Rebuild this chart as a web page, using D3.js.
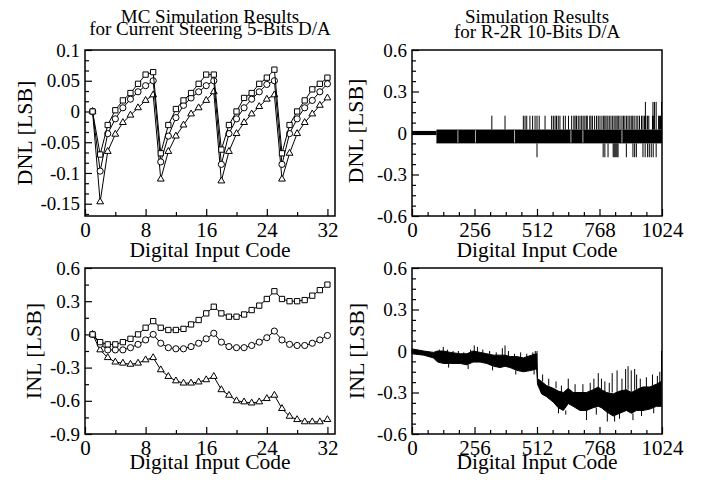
<!DOCTYPE html>
<html>
<head>
<meta charset="utf-8">
<script src="https://cdn.jsdelivr.net/npm/d3@7"></script>
<style>
  body { margin: 0; background: #fff; }
  text { font-family: 'Liberation Serif', 'Times New Roman', serif; fill: #000; }
</style>
</head>
<body>
<svg id="chart" width="707" height="482"></svg>
<script>
// ---- data ----
let codes = [1, 2, 3, 4, 5, 6, 7, 8, 9, 10, 11, 12, 13, 14, 15, 16,
  17, 18, 19, 20, 21, 22, 23, 24, 25, 26, 27, 28, 29, 30, 31, 32]

let dnlSquare = [0, -0.07, -0.022, 0.002, 0.018, 0.03, 0.045, 0.06, 0.064,
  -0.068, -0.022, 0.004, 0.018, 0.03, 0.045, 0.06, 0.06,
  -0.062, -0.022, 0, 0.022, 0.03, 0.045, 0.055, 0.068,
  -0.068, -0.022, 0, 0.018, 0.036, 0.045, 0.055]
let dnlCircle = [0, -0.097, -0.036, -0.012, 0.006, 0.02, 0.032, 0.042, 0.05,
  -0.082, -0.04, -0.01, 0.01, 0.022, 0.032, 0.042, 0.05,
  -0.086, -0.036, -0.012, 0.006, 0.02, 0.032, 0.044, 0.05,
  -0.086, -0.036, -0.012, 0.006, 0.018, 0.032, 0.045]
let dnlTriangle = [0, -0.147, -0.065, -0.037, -0.018, -0.006, 0.006, 0.018, 0.027,
  -0.11, -0.065, -0.04, -0.022, -0.004, 0.006, 0.018, 0.032,
  -0.113, -0.065, -0.036, -0.018, -0.004, 0.008, 0.02, 0.027,
  -0.11, -0.068, -0.036, -0.018, -0.004, 0.01, 0.022]

let inlSquare = [0, -0.07, -0.09, -0.09, -0.07, -0.04, 0, 0.06, 0.12,
  0.06, 0.04, 0.04, 0.05, 0.09, 0.13, 0.19, 0.25,
  0.19, 0.16, 0.16, 0.18, 0.22, 0.26, 0.32, 0.39,
  0.32, 0.3, 0.3, 0.31, 0.35, 0.4, 0.45]
let inlCircle = [0, -0.09, -0.14, -0.14, -0.14, -0.12, -0.09, -0.05, 0,
  -0.08, -0.12, -0.13, -0.13, -0.11, -0.08, -0.04, 0.01,
  -0.07, -0.11, -0.12, -0.12, -0.1, -0.07, -0.03, 0.03,
  -0.05, -0.09, -0.1, -0.1, -0.08, -0.05, -0.01]
let inlTriangle = [0, -0.14, -0.21, -0.25, -0.26, -0.27, -0.26, -0.23, -0.21,
  -0.32, -0.38, -0.42, -0.44, -0.44, -0.43, -0.41, -0.38,
  -0.5, -0.55, -0.6, -0.61, -0.62, -0.61, -0.58, -0.55,
  -0.67, -0.74, -0.77, -0.79, -0.79, -0.79, -0.77]

// R-2R DNL: dense toggling drawn as bands [from, to, low, high] plus spikes
let r2rDnlBands = [[0, 100, -0.015, 0.015], [100, 1024, -0.075, 0.025]]
let r2rDnlGaps = [188, 260, 420, 651, 700, 860]
let r2rDnlSpikesUp = [327, 381, 456, 463, 470, 483, 494, 504, 512, 521, 545, 572, 579,
  586, 592, 599, 606, 620, 628, 641, 654, 663, 668, 674, 681, 688, 695, 701, 708, 714,
  718, 728, 733, 739, 748, 756, 763, 770, 778, 785, 790, 795, 802, 808, 815, 822, 828,
  835, 840, 845, 852, 860, 866, 872, 879, 885, 892, 898, 904, 910, 918, 925, 932, 940,
  946, 952, 958, 965, 970, 985, 990, 1010, 1014, 1018]
let r2rDnlSpikesHigh = [956, 987, 993, 1000, 1022]
let r2rDnlSpikesDown = [512, 783, 790, 803, 824, 828, 832, 836, 840, 844, 878, 905,
  912, 919, 946, 955, 965, 972, 980, 988, 1000]

// R-2R INL envelope
let r2rInlCode = [0, 48, 88, 105, 129, 157, 197, 225, 250, 279, 306, 334, 361, 381,
  402, 429, 456, 490, 508, 511, 514, 531, 551, 579, 599, 620, 640, 660, 688, 715,
  742, 763, 776, 797, 824, 851, 878, 899, 919, 946, 974, 1001, 1021]
let r2rInlHigh = [0.015, 0, -0.01, 0, 0, -0.01, -0.02, -0.02, 0, -0.01, -0.02, -0.03,
  -0.03, -0.03, -0.04, -0.04, -0.05, -0.03, -0.02, -0.02, -0.2, -0.22, -0.25, -0.27,
  -0.29, -0.3, -0.27, -0.3, -0.3, -0.3, -0.28, -0.26, -0.28, -0.3, -0.31, -0.29,
  -0.28, -0.3, -0.28, -0.26, -0.26, -0.24, -0.22]
let r2rInlLow = [-0.02, -0.03, -0.05, -0.08, -0.09, -0.09, -0.09, -0.1, -0.08, -0.08,
  -0.09, -0.11, -0.12, -0.11, -0.12, -0.14, -0.15, -0.14, -0.13, -0.13, -0.24, -0.31,
  -0.33, -0.37, -0.41, -0.43, -0.38, -0.4, -0.43, -0.43, -0.41, -0.4, -0.41, -0.44,
  -0.47, -0.45, -0.43, -0.45, -0.43, -0.43, -0.42, -0.4, -0.4]
// spikes: [code, from, to]
let r2rInlSpikes = [[112, -0.02, 0.01], [128, -0.02, 0.03], [145, -0.02, 0.01],
  [168, -0.02, -0.0], [190, -0.03, 0.0], [212, -0.03, -0.01], [240, -0.03, 0.01],
  [255, -0.02, 0.04], [268, -0.02, 0.03], [290, -0.02, 0.01], [318, -0.03, 0.0],
  [345, -0.04, -0.01], [370, -0.04, 0.02], [381, -0.04, 0.04], [395, -0.04, 0.0],
  [420, -0.05, -0.02], [445, -0.05, -0.01], [470, -0.05, -0.02], [495, -0.03, -0.01],
  [505, -0.02, 0.0], [512, -0.14, 0],
  [535, -0.22, -0.17], [560, -0.25, -0.2], [590, -0.27, -0.22], [612, -0.3, -0.25],
  [640, -0.27, -0.2], [668, -0.3, -0.24], [700, -0.3, -0.24], [730, -0.29, -0.23],
  [745, -0.28, -0.2], [763, -0.26, -0.16], [776, -0.28, -0.2], [790, -0.3, -0.22],
  [808, -0.3, -0.23], [820, -0.3, -0.16], [840, -0.3, -0.14], [860, -0.29, -0.2],
  [875, -0.28, -0.13], [885, -0.28, -0.11], [898, -0.3, -0.14], [912, -0.28, -0.13],
  [920, -0.28, -0.17], [935, -0.27, -0.2], [960, -0.26, -0.19], [985, -0.25, -0.17],
  [1005, -0.24, -0.18], [1015, -0.23, -0.15], [1022, -0.22, 0],
  [150, -0.09, -0.12], [230, -0.1, -0.13], [330, -0.11, -0.14], [425, -0.14, -0.17],
  [500, -0.13, -0.17], [600, -0.41, -0.45], [630, -0.43, -0.46], [715, -0.43, -0.5],
  [755, -0.41, -0.46], [800, -0.44, -0.51], [830, -0.47, -0.51], [850, -0.45, -0.49],
  [905, -0.45, -0.5], [940, -0.43, -0.47], [990, -0.41, -0.45]]

// tick values and labels
let xTicks32 = [0, 8, 16, 24, 32]
let xTicks1024 = [0, 256, 512, 768, 1024]
let dnlTicks = [0.1, 0.05, 0, -0.05, -0.1, -0.15]
let dnlTickLabels = ['0.1', '0.05', '0', '-0.05', '-0.1', '-0.15']
let inlTicks = [0.6, 0.3, 0, -0.3, -0.6, -0.9]
let inlTickLabels = ['0.6', '0.3', '0', '-0.3', '-0.6', '-0.9']
let r2rTicks = [0.6, 0.3, 0, -0.3, -0.6]
let r2rTickLabels = ['0.6', '0.3', '0', '-0.3', '-0.6']

let svg = d3.select('#chart')

let width = 250
let height = 166

function makePanel(left, top, xDomain, yDomain, opts) {
  let g = svg.append('g').attr('transform', `translate(${left},${top})`)
  let x = d3.scaleLinear().domain(xDomain).range([0, width])
  let y = d3.scaleLinear().domain(yDomain).range([height, 0])

  // minor ticks
  g.append('g')
    .attr('transform', `translate(0,${height})`)
    .call(d3.axisBottom(x).tickValues(opts.xMinor).tickSize(-4).tickSizeOuter(0).tickFormat(''))
  g.append('g')
    .call(d3.axisLeft(y).tickValues(opts.yMinor).tickSize(-4).tickSizeOuter(0).tickFormat(''))

  // major ticks + labels
  g.append('g')
    .attr('class', 'xaxis')
    .attr('transform', `translate(0,${height})`)
    .call(d3.axisBottom(x).tickValues(opts.xTicks).tickSize(-7).tickSizeOuter(0).tickPadding(6)
      .tickFormat(d => String(d)))
  g.append('g')
    .attr('class', 'yaxis')
    .call(d3.axisLeft(y).tickValues(opts.yTicks).tickSize(-7).tickSizeOuter(0).tickPadding(5)
      .tickFormat((d, i) => opts.yLabels[i]))

  g.selectAll('.domain').remove()
  g.selectAll('.tick line').attr('stroke', '#000').attr('stroke-width', 1.2)
  g.selectAll('.xaxis text').attr('font-size', 21)
  g.selectAll('.yaxis text').attr('font-size', 19)
  g.selectAll('g').attr('font-family', null)

  g.append('rect')
    .attr('width', width)
    .attr('height', height)
    .attr('fill', 'none')
    .attr('stroke', '#000')
    .attr('stroke-width', 1.5)

  return { g, x, y }
}

function addSeries(p, values, symbolType, size) {
  let pts = codes.map((c, i) => ({ c: c, v: values[i] }))
  let line = d3.line().x(d => p.x(d.c)).y(d => p.y(d.v))
  p.g.append('path')
    .datum(pts)
    .attr('d', line)
    .attr('fill', 'none')
    .attr('stroke', '#000')
    .attr('stroke-width', 1)
  p.g.selectAll(null)
    .data(pts)
    .enter()
    .append('path')
    .attr('d', d3.symbol().type(symbolType).size(size))
    .attr('transform', d => `translate(${p.x(d.c)},${p.y(d.v)})`)
    .attr('fill', '#fff')
    .attr('stroke', '#000')
    .attr('stroke-width', 1)
}

function labels(p, cx, cy, yTitle, yTitleX, xTitleY, title) {
  svg.append('text')
    .text(yTitle)
    .attr('font-size', 22)
    .attr('text-anchor', 'middle')
    .attr('transform', `translate(${yTitleX},${cy}) rotate(-90)`)
  svg.append('text')
    .text('Digital Input Code')
    .attr('font-size', 21.5)
    .attr('text-anchor', 'middle')
    .attr('x', cx)
    .attr('y', xTitleY)
  if (title) {
    title.forEach(t => {
      svg.append('text')
        .text(t.text)
        .attr('font-size', 19)
        .attr('text-anchor', 'middle')
        .attr('x', cx)
        .attr('y', t.y)
    })
  }
}

// ---- top left: DNL current steering ----
let p1 = makePanel(85, 50, [0, 33], [-0.17, 0.1], {
  xTicks: xTicks32, xMinor: [4, 12, 20, 28],
  yTicks: dnlTicks, yLabels: dnlTickLabels,
  yMinor: d3.range(-0.1667, 0.1, 0.05 / 3).filter(v => Math.abs(Math.round(v * 20) - v * 20) > 0.01)
})
addSeries(p1, dnlTriangle, d3.symbolTriangle, 20)
addSeries(p1, dnlCircle, d3.symbolCircle, 30)
addSeries(p1, dnlSquare, d3.symbolSquare, 28)
labels(p1, 210, 133, 'DNL [LSB]', 32, 256.5, [
  { text: 'MC Simulation Results', y: 22.5 },
  { text: 'for Current Steering 5-Bits D/A', y: 35 }
])

// ---- bottom left: INL current steering ----
let p3 = makePanel(85, 268, [0, 33], [-0.9, 0.6], {
  xTicks: xTicks32, xMinor: [4, 12, 20, 28],
  yTicks: inlTicks, yLabels: inlTickLabels,
  yMinor: [0.45, 0.15, -0.15, -0.45, -0.75]
})
addSeries(p3, inlTriangle, d3.symbolTriangle, 20)
addSeries(p3, inlCircle, d3.symbolCircle, 30)
addSeries(p3, inlSquare, d3.symbolSquare, 28)
labels(p3, 210, 351, 'INL [LSB]', 41, 469)

// ---- top right: DNL R-2R ----
let r2rMinor = [0.525, 0.45, 0.375, 0.225, 0.15, 0.075, -0.075, -0.15, -0.225, -0.375, -0.45, -0.525]
let xMinor1024 = [64, 128, 192, 320, 384, 448, 576, 640, 704, 832, 896, 960]
let p2 = makePanel(412, 50, [0, 1024], [-0.6, 0.6], {
  xTicks: xTicks1024, xMinor: xMinor1024,
  yTicks: r2rTicks, yLabels: r2rTickLabels, yMinor: r2rMinor
})
p2.g.selectAll(null)
  .data(r2rDnlBands)
  .enter()
  .append('rect')
  .attr('x', d => p2.x(d[0]))
  .attr('width', d => p2.x(d[1]) - p2.x(d[0]))
  .attr('y', d => p2.y(d[3]))
  .attr('height', d => p2.y(d[2]) - p2.y(d[3]))
  .attr('fill', '#000')
p2.g.selectAll(null)
  .data(r2rDnlGaps)
  .enter()
  .append('line')
  .attr('x1', d => p2.x(d))
  .attr('x2', d => p2.x(d))
  .attr('y1', p2.y(0.02))
  .attr('y2', p2.y(-0.07))
  .attr('stroke', '#fff')
  .attr('stroke-width', 0.7)
let spikeSets = [
  { codes: r2rDnlSpikesUp, from: 0.025, to: 0.125 },
  { codes: r2rDnlSpikesHigh, from: 0.025, to: 0.225 },
  { codes: r2rDnlSpikesDown, from: -0.075, to: -0.175 }
]
spikeSets.forEach(s => {
  p2.g.selectAll(null)
    .data(s.codes)
    .enter()
    .append('line')
    .attr('x1', d => p2.x(d))
    .attr('x2', d => p2.x(d))
    .attr('y1', p2.y(s.from))
    .attr('y2', p2.y(s.to))
    .attr('stroke', '#000')
    .attr('stroke-width', 1)
})
labels(p2, 537, 131, 'DNL [LSB]', 363, 256.5, [
  { text: 'Simulation Results', y: 22.5 },
  { text: 'for R-2R 10-Bits D/A', y: 38 }
])

// ---- bottom right: INL R-2R ----
let p4 = makePanel(412, 268, [0, 1024], [-0.6, 0.6], {
  xTicks: xTicks1024, xMinor: xMinor1024,
  yTicks: r2rTicks, yLabels: r2rTickLabels, yMinor: r2rMinor
})
let inlPts = r2rInlCode.map((c, i) => ({ c: c, hi: r2rInlHigh[i], lo: r2rInlLow[i] }))
p4.g.append('path')
  .datum(inlPts)
  .attr('d', d3.area().x(d => p4.x(d.c)).y0(d => p4.y(d.lo)).y1(d => p4.y(d.hi)))
  .attr('fill', '#000')
  .attr('stroke', '#000')
  .attr('stroke-width', 1)
p4.g.selectAll(null)
  .data(r2rInlSpikes)
  .enter()
  .append('line')
  .attr('x1', d => p4.x(d[0]))
  .attr('x2', d => p4.x(d[0]))
  .attr('y1', d => p4.y(d[1]))
  .attr('y2', d => p4.y(d[2]))
  .attr('stroke', '#000')
  .attr('stroke-width', 1)
labels(p4, 537, 351, 'INL [LSB]', 364, 469)
</script>
</body>
</html>
